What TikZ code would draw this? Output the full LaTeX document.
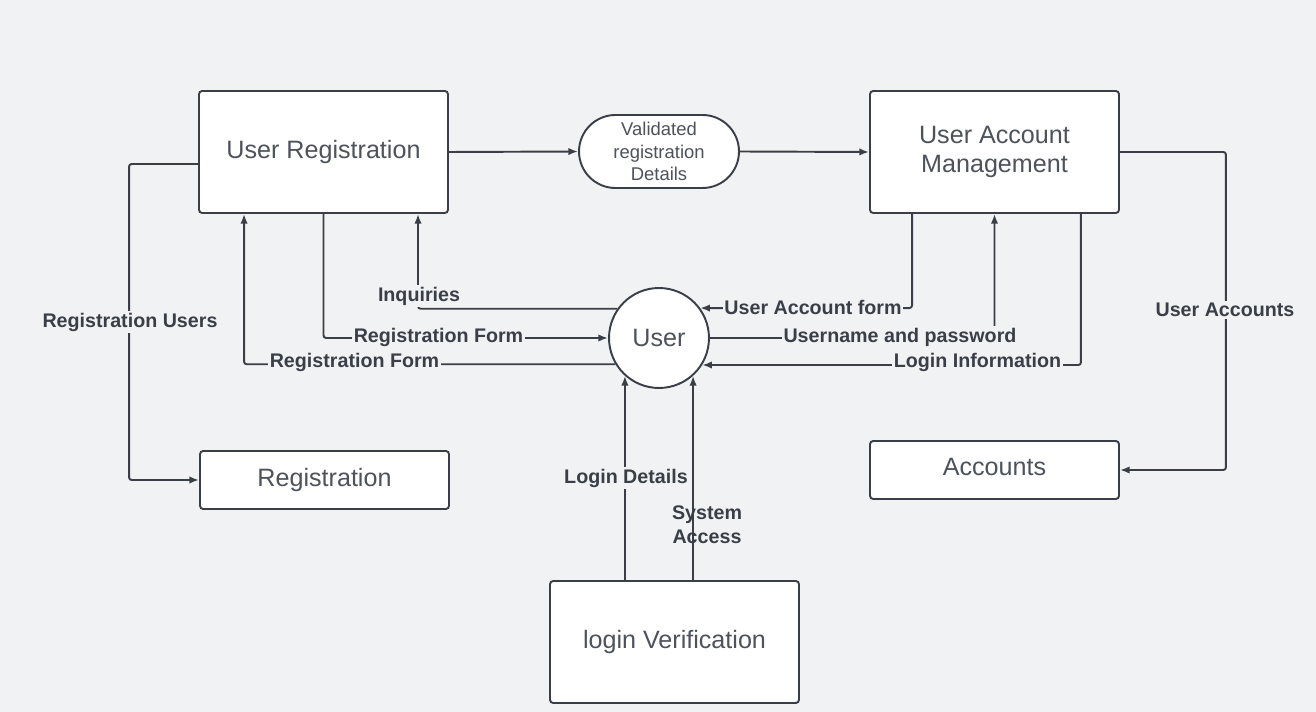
\documentclass[tikz,border=0pt]{standalone}
\usepackage{fontspec}
\setmainfont{Liberation Sans}
\usetikzlibrary{arrows.meta, positioning, shapes.misc}

\definecolor{bgcol}{HTML}{F1F2F4}
\definecolor{edgecol}{HTML}{3A3F47}
\definecolor{boxtext}{HTML}{4D525B}

\tikzset{
  procbox/.style={draw=edgecol, fill=white, line width=1.1pt, rounded corners=1.8pt,
                  minimum width=4.98cm, minimum height=2.44cm, inner sep=0pt,
                  text=boxtext, align=center, font=\fontsize{14.3}{17}\selectfont},
  storebox/.style={procbox, minimum height=1.16cm},
  pillbox/.style={draw=edgecol, fill=white, line width=1.1pt, rounded rectangle,
                  minimum width=3.2cm, minimum height=1.46cm, inner sep=0pt,
                  text=boxtext, align=center, font=\fontsize{10.5}{12.8}\selectfont},
  userbox/.style={draw=edgecol, fill=white, line width=1.1pt, circle, minimum size=2cm,
                  inner sep=0pt, text=boxtext, font=\fontsize{14.3}{17}\selectfont},
  flow/.style={draw=edgecol, line width=1.1pt, rounded corners=1.5pt,
               -{Latex[length=5.5pt,width=4.2pt]}},
  lbl/.style={fill=bgcol, inner sep=1pt, text=edgecol, align=center,
              font=\fontsize{11.2}{13.6}\selectfont\bfseries},
}

\begin{document}
\begin{tikzpicture}[x=0.02cm, y=-0.02cm]
  \fill[bgcol] (0,0) rectangle (1316,712);

  % processes and stores
  \node[procbox] (ureg) at (323.5,152) {User Registration};
  \node[pillbox] (valid) at (659,151.5) {Validated\\registration\\Details};
  \node[procbox] (uacc) at (994.5,152) {User Account\\Management};
  \node[userbox] (user) at (659,338) {User};
  \node[storebox] (reg) at (324.5,480) {Registration};
  \node[storebox, text depth=0.12cm] (acc) at (994.5,470) {Accounts};
  \node[procbox] (login) at (674.5,642) {login Verification};

  % flows along the top
  \draw[flow] (ureg.east) -- (valid.west);
  \draw[flow] (valid.east) -- (uacc.west);

  % flows to the stores
  \draw[flow] ([yshift=-0.24cm]ureg.west) -- ++(-69,0) |- (reg.west);
  \draw[flow] (uacc.east) -- ++(106,0) |- (acc.east);

  % flows between user and registration
  \draw[flow] (user.211.3) -| ([xshift=0.92cm]ureg.south west);
  \draw[flow] (ureg.south) |- (user.west);
  \draw[flow] (user.145.9) -| ([xshift=4.4cm]ureg.south west);

  % flows between user and account management
  \draw[flow] ([xshift=0.86cm]uacc.south west) |- (user.36.9);
  \draw[flow] (user.east) -| (uacc.south);
  \draw[flow] ([xshift=-0.78cm]uacc.south east) |- (user.328.7);

  % flows from login verification
  \draw[flow] (login.north -| user.228.7) -- (user.228.7);
  \draw[flow] (login.north -| user.312.8) -- (user.312.8);

  % labels
  \node[lbl] (lregusers) at (130,322) {Registration Users};
  \node[lbl] (luseracc) at (1225,310) {User Accounts};
  \node[lbl] (linq) at (419,296) {Inquiries};
  \node[lbl] (lregform) at (438.5,337) {Registration Form};
  \node[lbl] (lregformb) at (354.5,362) {Registration Form};
  \node[lbl] (laccform) at (813,307) {User Account form};
  \node[lbl] (lpass) at (900,337) {Username and password};
  \node[lbl] (lloginfo) at (977.5,362) {Login Information};
  \node[lbl] (llogdet) at (626,478) {Login Details};
  \node[lbl, fill=none] (lsysacc) at (707,525) {System\\Access};
\end{tikzpicture}
\end{document}
